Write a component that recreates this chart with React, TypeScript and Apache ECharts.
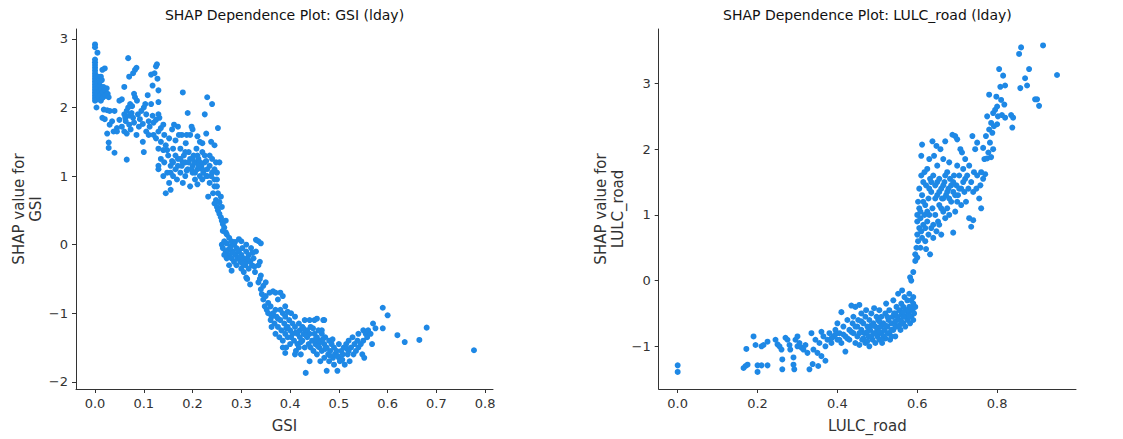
import React, { useEffect, useRef } from "react";
import * as echarts from "echarts";

const gsiTicksX = [0, 0.1, 0.2, 0.3, 0.4, 0.5, 0.6, 0.7, 0.8];
const gsiTicksY = [-2, -1, 0, 1, 2, 3];
const roadTicksX = [0, 0.2, 0.4, 0.6, 0.8];
const roadTicksY = [-1, 0, 1, 2, 3];

const gsiTitle = "SHAP Dependence Plot: GSI (lday)";
const roadTitle = "SHAP Dependence Plot: LULC_road (lday)";

// [GSI value, SHAP value]
const gsiPoints: [number, number][] = [
  [0,2.92],[0,2.88],[0.005,2.8],[0,2.7],[0,2.66],[0,2.62],[0,2.58],[0,2.54],[0,2.5],[0,2.46],[0,2.42],[0,2.38],[0,2.34],[0,2.3],[0,2.26],[0,2.22],[0,2.18],[0,2.14],[0,2.1],
  [0.004,2.12],[0.005,2.2],[0.006,2.28],[0.004,2.36],[0.006,2.45],[0.008,2.15],[0.009,2.24],[0.01,2.32],[0.011,2.18],[0.012,2.1],[0.013,2.27],[0.014,2.4],[0.015,2.14],[0.016,2.22],[0.017,2.3],[0.018,2.16],[0.02,2.25],[0.022,2.18],[0.024,2.28],[0.026,2.2],[0.028,2.15],[0.012,2.45],[0.015,2.55],[0.02,2.57],[0.01,2.38],[0.003,2.0],
  [0.018,1.97],[0.025,1.96],[0.03,1.95],[0.015,1.85],[0.02,1.83],[0.025,1.62],[0.028,1.49],[0.028,1.41],[0.04,1.34],[0.038,1.65],[0.045,1.7],[0.035,1.8],[0.05,1.82],[0.04,1.95],[0.03,1.75],[0.045,1.65],[0.055,1.72],[0.05,2.1],
  [0.055,2.12],[0.06,2.3],[0.065,1.24],[0.068,2.72],[0.07,2.45],[0.078,2.5],[0.082,2.55],[0.085,2.58],[0.06,1.9],[0.062,1.85],[0.065,1.95],[0.068,2.0],[0.07,1.88],[0.072,2.05],[0.075,1.92],[0.06,1.65],[0.065,1.62],[0.07,1.75],[0.078,1.85],[0.08,2.2],[0.082,2.15],[0.085,1.6],[0.088,1.9],[0.09,1.72],[0.095,1.95],[0.098,1.5],[0.1,1.35],[0.1,2.0],[0.103,2.05],[0.105,1.65],[0.108,2.18],[0.11,1.8],[0.112,1.72],[0.115,2.05],[0.118,1.88],[0.12,1.78],[0.122,2.5],[0.125,2.6],[0.127,2.63],[0.128,2.42],[0.13,2.25],[0.13,2.08],[0.13,1.9],[0.132,1.85],[0.135,1.7],[0.118,2.32],[0.115,2.48],[0.063,1.8],[0.073,1.68],[0.08,1.78],[0.092,1.83],[0.105,1.9],[0.086,2.1],[0.076,2.02],[0.098,1.76],[0.11,1.6],[0.125,1.82],
  [0.12,1.6],[0.125,1.55],[0.13,1.65],[0.135,1.5],[0.14,1.75],[0.142,1.6],[0.145,1.45],[0.148,1.38],[0.14,1.38],[0.13,1.4],[0.152,1.55],[0.158,1.68],[0.165,1.52],[0.17,1.72],[0.178,1.6],[0.186,1.48],[0.195,1.6],[0.2,1.68],[0.21,1.58],[0.22,1.48],[0.228,1.62],
  [0.13,1.15],[0.13,1.1],[0.135,1.25],[0.14,1.0],[0.142,1.2],[0.145,0.75],[0.148,1.05],[0.15,1.3],[0.152,0.9],[0.155,1.15],[0.155,0.8],[0.158,1.22],[0.16,1.0],[0.16,1.4],[0.162,1.75],[0.165,1.1],[0.168,0.95],[0.17,1.25],[0.172,1.6],[0.175,1.05],[0.175,1.4],[0.178,1.15],[0.18,0.9],[0.18,2.22],[0.182,1.3],[0.185,1.0],[0.185,1.2],[0.188,1.6],[0.19,1.1],[0.19,1.92],[0.192,1.35],[0.195,0.85],[0.195,1.25],[0.198,1.72],[0.2,1.05],[0.2,1.15],[0.202,1.3],[0.205,0.95],[0.205,1.2],[0.208,1.4],[0.21,1.1],[0.21,0.88],[0.212,1.25],[0.215,1.0],[0.215,1.5],[0.218,1.15],[0.22,0.95],[0.22,1.35],[0.222,1.05],[0.225,1.9],[0.225,1.2],[0.228,1.0],[0.23,2.15],[0.23,1.1],[0.232,0.7],[0.235,1.3],[0.235,0.9],[0.238,1.5],[0.24,2.05],[0.24,1.05],[0.242,0.75],[0.245,1.45],[0.245,0.95],[0.248,1.2],[0.25,1.05],[0.252,1.7],[0.25,0.85],[0.248,0.65],[0.255,1.2],
  [0.165,1.3],[0.17,1.15],[0.18,1.2],[0.188,1.08],[0.192,1.2],[0.198,1.1],[0.205,1.05],[0.21,1.3],[0.215,1.2],[0.22,1.1],[0.225,1.3],[0.23,1.0],[0.235,1.15],[0.24,1.25],[0.245,1.1],[0.175,1.25],[0.185,1.35],[0.2,1.25],[0.212,1.15],[0.228,1.22],[0.238,1.0],[0.245,0.85],[0.25,0.95],[0.155,1.05],[0.16,1.2],
  [0.245,0.6],[0.25,0.55],[0.252,0.5],[0.255,0.45],[0.255,0.62],[0.258,0.4],[0.26,0.35],[0.26,0.55],[0.262,0.3],[0.265,0.25],[0.262,0.2],[0.268,0.18],[0.27,0.15],[0.268,0.35],[0.258,0.7],[0.252,0.75],
  [0.26,0.0],[0.262,-0.05],[0.265,0.05],[0.268,-0.1],[0.27,0.02],[0.272,-0.08],[0.275,0.1],[0.275,-0.15],[0.278,-0.02],[0.28,-0.2],[0.28,0.05],[0.282,-0.1],[0.285,-0.25],[0.285,0.0],[0.288,-0.15],[0.29,-0.05],[0.29,-0.3],[0.292,-0.2],[0.295,0.08],[0.295,-0.1],[0.298,-0.25],[0.3,-0.15],[0.3,-0.35],[0.302,-0.05],[0.305,-0.2],[0.305,-0.4],[0.308,-0.3],[0.31,-0.1],[0.31,-0.25],[0.312,-0.5],[0.315,-0.15],[0.315,-0.35],[0.318,-0.25],[0.318,-0.58],[0.32,-0.05],[0.322,-0.3],[0.325,-0.2],[0.328,-0.4],[0.33,-0.1],[0.33,0.07],[0.335,0.05],[0.335,-0.3],[0.34,-0.45],[0.34,0.02],[0.338,-0.25],[0.28,-0.38],[0.275,-0.3],[0.27,-0.2],[0.3,0.05],[0.31,0.0],[0.31,-0.48],[0.265,-0.15],[0.283,-0.12],[0.293,-0.08],[0.297,-0.18],[0.303,-0.28],[0.313,-0.2],[0.323,-0.12],[0.327,-0.32],[0.287,0.04],[0.277,-0.05],
  [0.335,-0.55],[0.338,-0.5],[0.34,-0.65],[0.342,-0.72],[0.345,-0.6],[0.345,-0.8],[0.348,-0.9],[0.35,-0.75],[0.35,-0.55],[0.352,-0.95],[0.355,-0.85],[0.355,-1.0],[0.358,-0.7],[0.36,-0.9],[0.362,-1.05],[0.365,-0.68],[0.37,-0.7],[0.375,-0.8],[0.38,-0.7],[0.385,-0.75],[0.39,-0.9],
  [0.36,-1.1],[0.362,-1.2],[0.365,-1.0],[0.368,-1.15],[0.37,-1.3],[0.37,-0.95],[0.372,-1.05],[0.375,-1.2],[0.378,-1.35],[0.38,-1.1],[0.38,-0.95],[0.382,-1.25],[0.385,-1.4],[0.385,-1.0],[0.388,-1.15],[0.39,-1.3],[0.39,-1.05],[0.392,-1.5],[0.395,-1.2],[0.395,-1.35],[0.398,-1.1],[0.4,-1.25],[0.4,-1.45],[0.402,-1.0],[0.405,-1.3],[0.405,-1.15],[0.408,-1.4],[0.41,-1.2],[0.41,-1.05],[0.412,-1.55],[0.415,-1.3],[0.415,-1.45],[0.418,-1.15],[0.42,-1.35],[0.42,-1.25],[0.422,-1.6],[0.425,-1.2],[0.425,-1.4],[0.428,-1.3],[0.43,-1.5],[0.43,-1.1],[0.432,-1.87],[0.435,-1.35],[0.435,-1.25],[0.438,-1.45],[0.44,-1.3],[0.44,-1.7],[0.442,-1.2],[0.445,-1.4],[0.448,-1.55],[0.45,-1.3],[0.45,-1.1],[0.452,-1.45],[0.455,-1.35],[0.455,-1.6],[0.458,-1.25],[0.46,-1.5],[0.46,-1.4],[0.462,-1.7],[0.465,-1.3],[0.465,-1.55],[0.468,-1.1],[0.47,-1.45],[0.47,-1.65],[0.472,-1.35],[0.475,-1.5],[0.475,-1.84],[0.478,-1.6],[0.48,-1.4],[0.48,-1.7],[0.482,-1.55],[0.485,-1.45],[0.488,-1.65],[0.49,-1.5],[0.49,-1.75],[0.492,-1.6],[0.495,-1.55],[0.497,-1.84],[0.5,-1.45],[0.5,-1.65],[0.502,-1.7],[0.505,-1.55],[0.508,-1.6],[0.51,-1.5],[0.512,-1.75],[0.515,-1.45],[0.518,-1.6],[0.52,-1.4],[0.52,-1.55],[0.522,-1.7],[0.525,-1.5],[0.528,-1.35],[0.53,-1.6],[0.532,-1.45],[0.535,-1.55],[0.538,-1.4],[0.54,-1.5],[0.54,-1.3],[0.545,-1.45],[0.548,-1.6],[0.55,-1.4],[0.55,-1.25],[0.552,-1.65],[0.555,-1.3],[0.558,-1.35],[0.56,-1.25],[0.565,-1.3],[0.568,-1.45],[0.57,-1.15],[0.575,-1.22],
  [0.44,-1.1],[0.455,-1.08],[0.47,-1.1],[0.465,-1.25],[0.395,-0.98],[0.385,-1.5],[0.39,-1.58],[0.41,-1.6],[0.418,-1.5],[0.375,-1.08],[0.392,-1.22],[0.402,-1.35],[0.412,-1.28],[0.422,-1.42],[0.432,-1.32],[0.442,-1.5],[0.452,-1.38],[0.462,-1.42],[0.472,-1.52],[0.482,-1.62],[0.487,-1.38],[0.497,-1.62],[0.507,-1.68],[0.517,-1.52],[0.427,-1.22],[0.447,-1.22],[0.457,-1.48],[0.467,-1.38],
  [0.59,-0.92],[0.59,-1.22],[0.6,-1.03],[0.62,-1.32],[0.635,-1.42],[0.665,-1.39],[0.68,-1.21],[0.777,-1.54]
];

// [LULC_road value, SHAP value]
const roadPoints: [number, number][] = [
  [0,-1.29],[0,-1.39],
  [0.165,-1.33],[0.17,-1.3],[0.175,-1.28],[0.172,-1.04],[0.19,-0.85],[0.195,-0.98],[0.2,-1.39],[0.2,-1.29],[0.21,-1.29],[0.225,-1.29],[0.21,-1.0],[0.215,-0.98],[0.225,-0.93],[0.245,-0.9],[0.25,-0.97],[0.255,-1.0],[0.26,-1.05],[0.262,-1.2],[0.262,-1.35],[0.27,-0.87],[0.275,-0.9],[0.28,-0.98],[0.282,-1.05],[0.29,-1.17],[0.29,-1.28],[0.292,-1.35],[0.295,-0.9],[0.3,-0.85],[0.3,-1.0],[0.305,-0.95],[0.31,-1.02],[0.315,-1.05],[0.32,-0.98],[0.325,-1.1],[0.33,-1.35],[0.335,-0.8],[0.338,-1.27],[0.34,-1.05],[0.345,-0.9],[0.35,-1.1],[0.352,-1.3],[0.355,-0.95],[0.36,-0.78],[0.36,-1.15],[0.365,-0.85],[0.37,-1.0],[0.37,-1.22],[0.375,-0.9],[0.38,-0.8],[0.385,-0.95],[0.39,-0.85],[0.395,-0.75],[0.4,-0.9],[0.4,-0.65],[0.405,-0.8],[0.41,-0.48],[0.41,-0.95],[0.415,-0.7],[0.42,-0.85],[0.42,-1.08],[0.425,-0.6],[0.43,-0.75],[0.43,-0.9],[0.435,-0.38],[0.438,-0.65],[0.44,-0.8],[0.44,-0.55],[0.445,-0.95],[0.445,-0.4],[0.45,-0.7],[0.45,-0.85],[0.452,-0.6],[0.455,-0.98],[0.455,-0.37],[0.46,-0.75],[0.46,-0.5],[0.462,-0.9],[0.465,-0.65],[0.468,-0.8],[0.47,-0.55],[0.47,-0.95],[0.472,-0.45],[0.475,-0.7],[0.478,-0.85],[0.48,-0.6],[0.48,-1.0],[0.482,-0.75],[0.485,-0.5],[0.488,-0.9],[0.49,-0.65],[0.49,-0.8],[0.492,-0.42],[0.495,-0.7],[0.495,-0.95],[0.498,-0.55],[0.5,-0.85],[0.5,-0.75],[0.502,-0.6],[0.505,-0.9],[0.505,-0.45],[0.508,-0.7],[0.51,-0.8],[0.51,-0.55],[0.512,-0.95],[0.515,-0.65],[0.518,-0.75],[0.52,-0.5],[0.52,-0.88],[0.522,-0.35],[0.525,-0.7],[0.528,-0.6],[0.53,-0.8],[0.53,-0.45],[0.532,-0.9],[0.535,-0.65],[0.538,-0.55],[0.54,-0.75],[0.54,-0.3],[0.542,-0.5],[0.545,-0.85],[0.545,-0.62],[0.548,-0.4],[0.55,-0.7],[0.55,-0.55],[0.552,-0.2],[0.555,-0.6],[0.555,-0.45],[0.558,-0.75],[0.56,-0.35],[0.56,-0.52],[0.562,-0.15],[0.565,-0.65],[0.565,-0.4],[0.568,-0.25],[0.57,-0.55],[0.57,-0.7],[0.572,-0.45],[0.575,-0.3],[0.575,-0.6],[0.578,-0.5],[0.58,-0.2],[0.58,-0.4],[0.582,-0.65],[0.585,-0.55],[0.585,-0.3],[0.588,-0.45],[0.59,-0.6],[0.59,-0.35],[0.592,-0.5],[0.595,-0.4],
  [0.385,-0.88],[0.395,-0.82],[0.405,-0.9],[0.415,-0.82],[0.425,-0.88],[0.435,-0.78],[0.445,-0.7],[0.455,-0.8],[0.465,-0.88],[0.475,-0.78],[0.485,-0.85],[0.495,-0.8],[0.505,-0.78],[0.515,-0.85],[0.525,-0.8],[0.535,-0.75],[0.545,-0.7],[0.555,-0.68],[0.565,-0.55],[0.575,-0.45],[0.485,-0.68],[0.505,-0.62],[0.525,-0.55],[0.545,-0.5],[0.565,-0.48],[0.585,-0.42],[0.475,-0.92],[0.51,-0.9],[0.535,-0.85],[0.46,-0.62],[0.52,-0.68],[0.56,-0.62],[0.58,-0.55],[0.59,-0.25],
  [0.582,0.05],[0.585,0.0],[0.59,0.13],[0.595,0.3],[0.595,0.4],[0.598,0.5],[0.6,0.7],[0.6,0.9],[0.6,1.0],[0.6,0.35],[0.602,0.6],[0.602,1.2],[0.605,0.8],[0.605,1.1],[0.605,1.4],[0.608,0.5],[0.608,0.95],[0.61,1.6],[0.61,1.9],[0.61,0.75],[0.612,2.07],[0.612,1.3],[0.615,0.85],[0.615,1.5],[0.618,1.0],[0.618,1.65],[0.62,0.6],[0.62,1.15],[0.622,0.48],[0.622,1.45],[0.625,0.9],[0.625,1.7],[0.628,0.7],[0.628,1.25],[0.63,1.0],[0.63,1.85],[0.632,0.4],[0.632,1.55],[0.635,0.8],[0.635,1.35],[0.638,2.12],[0.638,1.1],[0.64,0.65],[0.64,1.6],[0.642,1.9],[0.645,1.0],[0.645,1.45],[0.648,0.75],[0.648,2.05],[0.65,1.3],[0.65,1.75],[0.652,0.9],[0.655,1.55],[0.655,1.15],[0.658,2.0],[0.66,0.7],[0.66,1.4],[0.662,1.25],[0.665,1.85],[0.665,1.05],[0.668,1.5],[0.67,2.12],[0.67,0.95],[0.672,1.3],[0.675,1.65],[0.675,1.1],[0.678,1.4],[0.68,1.8],[0.68,1.0],[0.682,1.55],[0.685,1.2],[0.688,2.22],[0.69,1.35],[0.69,0.73],[0.692,1.6],[0.695,2.2],[0.695,1.05],[0.698,1.45],[0.7,1.75],[0.7,2.15],[0.702,1.3],[0.705,1.6],[0.708,2.0],[0.71,1.15],[0.71,1.4],[0.712,1.95],[0.715,1.7],[0.718,1.35],[0.72,1.55],[0.72,1.85],[0.722,1.2],[0.725,1.6],[0.728,1.4],[0.73,1.75],[0.73,0.95],[0.735,1.5],[0.735,0.82],[0.738,2.2],[0.74,1.35],[0.74,0.92],[0.742,1.65],[0.745,2.0],[0.748,1.4],[0.75,1.6],[0.75,2.1],[0.755,1.25],[0.758,1.45],[0.76,1.1],[0.76,1.65],[0.765,1.55],[0.765,2.02],[0.768,1.85],[0.77,1.62],[0.772,2.2],
  [0.615,1.2],[0.625,1.05],[0.635,1.5],[0.645,1.25],[0.655,1.35],[0.665,1.45],[0.675,1.35],[0.685,1.45],[0.695,1.3],[0.705,1.4],[0.715,1.5],[0.655,0.85],[0.665,1.25],[0.62,0.8],[0.64,0.85],[0.63,1.4],[0.65,1.5],[0.67,1.6],[0.69,1.5],[0.66,1.1],[0.68,1.25],[0.7,1.2],[0.608,1.05],[0.612,0.65],
  [0.775,1.86],[0.775,2.5],[0.778,1.95],[0.78,2.3],[0.78,2.83],[0.782,2.1],[0.785,2.4],[0.785,1.88],[0.788,2.25],[0.79,2.55],[0.79,2.0],[0.792,2.35],[0.795,2.6],[0.798,2.8],[0.8,2.65],[0.8,2.38],[0.802,2.5],[0.805,3.22],[0.808,2.95],[0.81,2.75],[0.812,2.52],[0.815,3.12],[0.818,2.68],[0.82,2.48],[0.82,2.97],[0.835,2.52],[0.838,2.33],[0.84,2.48],[0.855,3.45],[0.858,2.93],[0.86,3.55],[0.87,3.08],[0.875,2.97],[0.88,3.22],[0.895,2.76],[0.9,2.76],[0.905,2.66],[0.915,3.58],[0.95,3.13]
];

const POINT_COLOR = "#1E88E5";
const AXIS_COLOR = "#333333";
const FONT = "DejaVu Sans";

const fmt = (v: number, digits: number) => {
  const s = Math.abs(v).toFixed(digits);
  return v < 0 ? "\u2212" + s : s;
};

function axisCommon(ticks: number[], digits: number) {
  return {
    type: "value" as const,
    splitLine: { show: false },
    axisLine: { show: true, onZero: false, lineStyle: { color: AXIS_COLOR, width: 1 } },
    axisTick: { show: true, inside: false, length: 4, customValues: ticks, lineStyle: { color: AXIS_COLOR, width: 1 } },
    axisLabel: {
      show: true,
      customValues: ticks,
      margin: 8,
      color: AXIS_COLOR,
      fontSize: 13,
      fontFamily: FONT,
      formatter: (v: number) => fmt(v, digits),
    },
    nameTextStyle: { color: AXIS_COLOR, fontSize: 15, fontFamily: FONT, lineHeight: 17 },
  };
}

export default function App() {
  const ref = useRef<HTMLDivElement>(null);
  useEffect(() => {
    document.body.style.margin = "0";
    if (!ref.current) return;
    const chart = echarts.init(ref.current, null, { renderer: "svg" });
    chart.setOption({
      animation: false,
      backgroundColor: "#ffffff",
      title: [
        { text: gsiTitle, left: 284.5, top: 8, padding: 0, textAlign: "center", textStyle: { fontFamily: FONT, fontSize: 14, fontWeight: "normal", color: "#111" } },
        { text: roadTitle, left: 867.4, top: 8, padding: 0, textAlign: "center", textStyle: { fontFamily: FONT, fontSize: 14, fontWeight: "normal", color: "#111" } },
      ],
      grid: [
        { left: 76, top: 29, width: 417, height: 365 },
        { left: 658.7, top: 29, width: 417.3, height: 365 },
      ],
      xAxis: [
        { ...axisCommon(gsiTicksX, 1), gridIndex: 0, min: -0.039, max: 0.816, name: "GSI", nameLocation: "middle", nameGap: 28 },
        { ...axisCommon(roadTicksX, 1), gridIndex: 1, min: -0.0475, max: 0.9975, name: "LULC_road", nameLocation: "middle", nameGap: 28 },
      ],
      yAxis: [
        { ...axisCommon(gsiTicksY, 0), gridIndex: 0, min: -2.105, max: 3.145, name: "SHAP value for\nGSI", nameLocation: "middle", nameGap: 32, nameRotate: 90 },
        { ...axisCommon(roadTicksY, 0), gridIndex: 1, min: -1.65, max: 3.83, name: "SHAP value for\nLULC_road", nameLocation: "middle", nameGap: 32, nameRotate: 90 },
      ],
      series: [
        { type: "scatter", xAxisIndex: 0, yAxisIndex: 0, data: gsiPoints, symbolSize: 6, itemStyle: { color: POINT_COLOR, opacity: 1 }, silent: true },
        { type: "scatter", xAxisIndex: 1, yAxisIndex: 1, data: roadPoints, symbolSize: 6, itemStyle: { color: POINT_COLOR, opacity: 1 }, silent: true },
      ],
    });
    return () => chart.dispose();
  }, []);
  return <div ref={ref} style={{ width: 1123, height: 439 }} />;
}
